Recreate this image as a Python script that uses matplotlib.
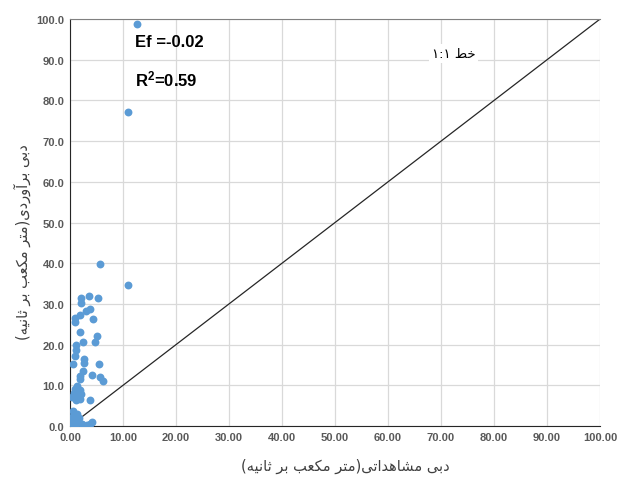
import matplotlib
matplotlib.use('Agg')
import matplotlib.pyplot as plt
from matplotlib.ticker import FormatStrFormatter

plt.rcParams['mathtext.fontset'] = 'custom'
plt.rcParams['mathtext.rm'] = 'Liberation Sans'
plt.rcParams['mathtext.bf'] = 'Liberation Sans:bold'

# دبی مشاهداتی و برآوردی (متر مکعب بر ثانیه)
observed = [12.6, 11.0, 5.7, 11.0,
            3.5, 2.0, 2.0, 5.3, 3.8, 3.1, 1.9, 0.9, 0.9, 4.3, 1.8, 5.0, 4.8, 2.4,
            1.1, 1.1, 0.9, 2.7, 2.7, 0.6, 5.5, 2.5, 1.9, 4.1, 5.7, 6.3, 1.9, 1.3,
            1.0, 1.8, 2.1, 1.4, 0.3, 3.8, 1.2, 1.9, 0.8,
            0.6, 1.3, 0.6, 1.7, 0.3, 0.3, 1.1, 2.2, 4.1, 3.8, 3.2, 0.5, 1.5]
estimated = [98.8, 77.1, 39.8, 34.6,
             32.0, 31.4, 30.2, 31.4, 28.7, 28.2, 27.3, 26.5, 25.5, 26.3, 23.2, 22.2, 20.7, 20.6,
             20.0, 18.7, 17.1, 16.5, 15.6, 15.2, 15.2, 13.6, 12.4, 12.5, 12.0, 11.1, 11.5, 9.9,
             9.0, 8.8, 7.8, 7.6, 7.0, 6.5, 6.5, 6.6, 8.0,
             3.8, 3.0, 2.4, 2.0, 1.5, 0.5, 0.5, 0.4, 0.9, 0.4, 0.2, 0.1, 1.0]

xlabel = 'دبی مشاهداتی(متر مکعب بر ثانیه)'
ylabel = 'دبی برآوردی(متر مکعب بر ثانیه)'
line_label = 'خط ۱:۱'
ef_text = 'Ef =-0.02'
r2_text = r'$\mathbf{R^2}$=0.59'

# شکل دهی ساده حروف فارسی (matplotlib خودش این کار را نمی کند)
FORMS = {
    'ا': ('\uFE8D', '\uFE8E', None, None),
    'آ': ('\uFE81', '\uFE82', None, None),
    'ب': ('\uFE8F', '\uFE90', '\uFE91', '\uFE92'),
    'ت': ('\uFE95', '\uFE96', '\uFE97', '\uFE98'),
    'ث': ('\uFE99', '\uFE9A', '\uFE9B', '\uFE9C'),
    'خ': ('\uFEA5', '\uFEA6', '\uFEA7', '\uFEA8'),
    'د': ('\uFEA9', '\uFEAA', None, None),
    'ر': ('\uFEAD', '\uFEAE', None, None),
    'و': ('\uFEED', '\uFEEE', None, None),
    'ش': ('\uFEB5', '\uFEB6', '\uFEB7', '\uFEB8'),
    'ط': ('\uFEC1', '\uFEC2', '\uFEC3', '\uFEC4'),
    'ع': ('\uFEC9', '\uFECA', '\uFECB', '\uFECC'),
    'ک': ('\uFB8E', '\uFB8F', '\uFB90', '\uFB91'),
    'م': ('\uFEE1', '\uFEE2', '\uFEE3', '\uFEE4'),
    'ن': ('\uFEE5', '\uFEE6', '\uFEE7', '\uFEE8'),
    'ه': ('\uFEE9', '\uFEEA', '\uFEEB', '\uFEEC'),
    'ی': ('\uFBFC', '\uFBFD', '\uFBFE', '\uFBFF'),
}


def shape(text):
    out = []
    for i, c in enumerate(text):
        if c not in FORMS:
            out.append(c)
            continue
        iso, fin, ini, med = FORMS[c]
        prev = text[i - 1] if i > 0 else ''
        nxt = text[i + 1] if i < len(text) - 1 else ''
        jp = prev in FORMS and FORMS[prev][2] is not None
        jn = ini is not None and nxt in FORMS
        if jp and jn:
            out.append(med)
        elif jp:
            out.append(fin)
        elif jn:
            out.append(ini)
        else:
            out.append(iso)
    vis = ''.join(reversed(out))
    return vis.translate(str.maketrans('()', ')('))


fig = plt.figure(figsize=(6.17, 4.81), dpi=100)
ax = fig.add_axes([0.1135, 0.1123, 0.859, 0.846])

ax.plot([0, 100], [0, 100], color='#262626', linewidth=0.9, zorder=2)
ax.scatter(observed, estimated, s=32, color='#5B9BD5', zorder=3, linewidths=0)

ax.set_xlim(0, 100)
ax.set_ylim(0, 100)
ax.set_xticks(range(0, 101, 10))
ax.set_yticks(range(0, 101, 10))
ax.xaxis.set_major_formatter(FormatStrFormatter('%.2f'))
ax.yaxis.set_major_formatter(FormatStrFormatter('%.1f'))
ax.grid(True, color='#D9D9D9', linewidth=0.9, zorder=0)
ax.set_axisbelow(True)
ax.tick_params(length=0, labelsize=8, labelcolor='#595959', pad=4)
for lab in ax.get_xticklabels() + ax.get_yticklabels():
    lab.set_family('Liberation Sans')
    lab.set_fontweight('bold')

ax.spines['left'].set_color('#262626')
ax.spines['bottom'].set_color('#262626')
ax.spines['top'].set_color('#808080')
ax.spines['right'].set_visible(False)

ax.set_xlabel(shape(xlabel), fontsize=10.5, color='#404040', family='DejaVu Sans')
ax.set_ylabel(shape(ylabel), fontsize=10.5, color='#404040', family='DejaVu Sans')
ax.xaxis.set_label_coords(0.52, -0.079)
ax.yaxis.set_label_coords(-0.074, 0.455)

ax.text(12.3, 93.3, ef_text, fontsize=12, fontweight='bold', family='Liberation Sans')
ax.text(12.3, 83.6, r2_text, fontsize=12, fontweight='bold', family='Liberation Sans')
ax.text(68.3, 91.6, shape(line_label), fontsize=9.5, family='DejaVu Sans', va='center',
        bbox=dict(facecolor='white', edgecolor='none', pad=2))

fig.savefig('out.png', dpi=100)
